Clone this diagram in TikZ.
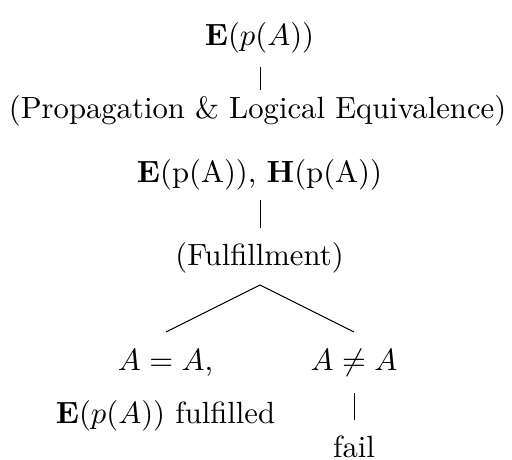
\documentclass[tikz,border=0pt]{standalone}
\usetikzlibrary{calc}
\begin{document}
\begin{tikzpicture}[x=0.326pt,y=-0.326pt,
  lab/.style={inner sep=0pt, outer sep=0pt, anchor=base},
  edge/.style={line width=0.32pt}]
\useasboundingbox (0,0) rectangle (512,459);
\node[lab] (n1) at (259.5,45) {$\mathbf{E}(p(A))$};
\node[lab] (n2) at (257.5,118) {(Propagation \& Logical Equivalence)};
\node[lab] (n3) at (259.5,182) {$\mathbf{E}$(p(A)), $\mathbf{H}$(p(A))};
\node[lab] (n4) at (259.5,265) {(Fulfillment)};
\node[lab] (n5) at (165.5,370) {$A = A$,};
\node[lab] (n6) at (165.5,423) {$\mathbf{E}(p(A))$ fulfilled};
\node[lab] (n7) at (354,370) {$A \neq A$};
\node[lab] (n8) at (354,457) {fail};
\draw[edge] ($(n1.base)+(0.5,22)$) -- ($(n1.base |- n2.base)+(0.5,-28)$);
\draw[edge] ($(n3.base)+(0.5,18)$) -- ($(n3.base |- n4.base)+(0.5,-37)$);
\coordinate (apex) at ($(n4.base)+(0.5,20)$);
\draw[edge] ($(n5.base)+(0.5,-38)$) -- (apex) -- ($(n7.base)+(0,-38)$);
\draw[edge] ($(n7.base)+(0,23)$) -- ($(n8.base)+(0,-37)$);
\end{tikzpicture}
\end{document}
